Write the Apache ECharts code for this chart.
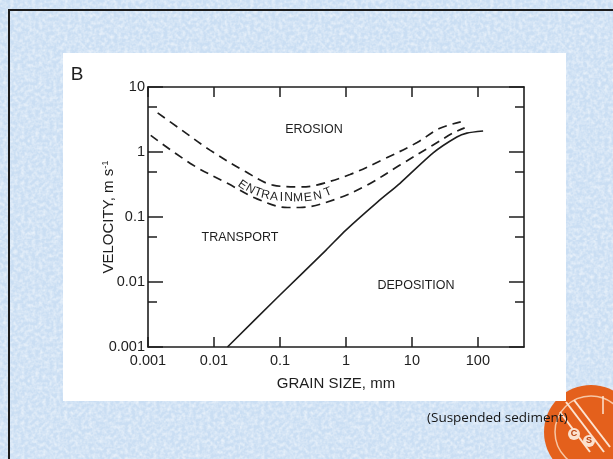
<!DOCTYPE html>
<html><head><meta charset="utf-8">
<script src="https://cdn.jsdelivr.net/npm/echarts@6/dist/echarts.min.js"></script>
<style>
html,body{margin:0;padding:0;}
body{background:#cadef3 url("data:image/svg+xml;utf8,<svg xmlns='http://www.w3.org/2000/svg' width='240' height='240'><filter id='n'><feTurbulence type='fractalNoise' baseFrequency='0.28' numOctaves='2' seed='4'/><feColorMatrix values='0 0 0 0 1  0 0 0 0 1  0 0 0 0 1  1.1 0 0 0 -0.38'/></filter><rect width='240' height='240' filter='url(%23n)'/></svg>");}
#c{width:613px;height:459px;}
</style>
</head><body><div id="c"></div>
<script>
// ---- data ----
const xTickValues = [0.001, 0.01, 0.1, 1, 10, 100];
const yTickValues = [0.001, 0.01, 0.1, 1, 10];
const yMinorValues = [0.005, 0.05, 0.5, 5];
// [grain size mm, velocity m/s]
const erosionCurve = [[0.0014,4.0],[0.003,2.3],[0.0087,1.07],[0.03,0.5],[0.078,0.31],[0.2,0.29],[0.36,0.31],[1.15,0.45],[3.6,0.76],[12,1.4],[26,2.3],[55,2.9]];
const entrainmentCurve = [[0.0011,1.8],[0.0048,0.63],[0.016,0.33],[0.045,0.19],[0.13,0.14],[0.2,0.14],[0.72,0.19],[2.1,0.31],[6.6,0.63],[21,1.28],[42,1.96],[63,2.35]];
const depositionCurve = [[0.016,0.001],[0.1,0.0063],[0.5,0.031],[1,0.063],[3,0.17],[6.6,0.33],[21,0.97],[48,1.7],[68,1.95],[120,2.1]];
const entrainmentLetters = ['E','N','T','R','A','I','N','M','E','N','T'];

const FONT = '"Liberation Sans", Arial, Helvetica, sans-serif';
const INK = '#1e1e1e';
const chart = echarts.init(document.getElementById('c'));

const lineStyleAxis = {color: INK, width: 1.6};
function xAxisDef(pos, labels) {
  return {
    type: 'log', position: pos, min: 0.001, max: 500, logBase: 10,
    axisLine: {show: true, onZero: false, lineStyle: lineStyleAxis},
    axisTick: {show: true, inside: true, length: 10, customValues: xTickValues, lineStyle: {color: INK, width: 1.5}},
    axisLabel: labels ? {show: true, customValues: xTickValues, formatter: v => String(v), color: INK, fontSize: 14.5, fontFamily: FONT, margin: 6} : {show: false},
    splitLine: {show: false}, minorTick: {show: false},
    name: labels ? 'GRAIN SIZE, mm' : '', nameLocation: 'middle', nameGap: 29, nameMoveOverlap: false,
    nameTextStyle: {color: INK, fontSize: 15, fontFamily: FONT}
  };
}
function yAxisDef(pos, values, len, line, labels) {
  return {
    type: 'log', position: pos, offset: 0, min: 0.001, max: 10, logBase: 10,
    axisLine: {show: line, onZero: false, lineStyle: lineStyleAxis},
    axisTick: {show: true, inside: true, length: len, customValues: values, lineStyle: {color: INK, width: 1.5}},
    axisLabel: labels ? {show: true, customValues: yTickValues, formatter: v => String(v), color: INK, fontSize: 14.5, fontFamily: FONT, margin: 3} : {show: false},
    splitLine: {show: false}, minorTick: {show: false},
    name: labels ? 'VELOCITY, m s{sup|-1}' : '', nameLocation: 'middle', nameGap: 30, nameRotate: 90, nameMoveOverlap: false,
    nameTextStyle: {color: INK, fontSize: 15, fontFamily: FONT,
      rich: {sup: {fontSize: 9.5, fontFamily: FONT, color: INK, verticalAlign: 'top', lineHeight: 18, padding: [0,0,7,0]}}}
  };
}

const letterPos = [[242.5,185,35],[250.5,189,30],[258,192.5,20],[265.5,195,12],[274,196.7,5],[281.5,197.5,0],[288.5,198,0],[298,198,-3],[308,197.5,-6],[317.5,196,-11],[328,192,-22]];

const graphics = [
  // logo (behind panel)
  {type:'circle', z:-30, shape:{cx:591, cy:432, r:47}, style:{fill:'#e4601c'}},
  {type:'circle', z:-29, shape:{cx:591, cy:432, r:36}, style:{fill:'none', stroke:'#f6c7a6', lineWidth:1.5}},
  {type:'line', z:-29, shape:{x1:566, y1:402, x2:604, y2:452}, style:{stroke:'#fde3d0', lineWidth:2}},
  {type:'line', z:-29, shape:{x1:574, y1:400, x2:610, y2:447}, style:{stroke:'#fde3d0', lineWidth:2}},
  {type:'line', z:-29, shape:{x1:560, y1:412, x2:590, y2:452}, style:{stroke:'#fde3d0', lineWidth:2}},
  {type:'line', z:-29, shape:{x1:603, y1:396, x2:603, y2:414}, style:{stroke:'#fde3d0', lineWidth:1.5}},
  {type:'circle', z:-28, shape:{cx:574, cy:434, r:6}, style:{fill:'#fbe1cf'}},
  {type:'circle', z:-28, shape:{cx:589, cy:441, r:6}, style:{fill:'#fbe1cf'}},
  {type:'text', z:-27, x:574, y:434, style:{text:'C', font:'bold 9px '+FONT, fill:'#b9420f', align:'center', verticalAlign:'middle'}},
  {type:'text', z:-27, x:589, y:441, style:{text:'S', font:'bold 9px '+FONT, fill:'#b9420f', align:'center', verticalAlign:'middle'}},
  // white panel
  {type:'rect', z:-20, shape:{x:63, y:53, width:503, height:348}, style:{fill:'#ffffff'}},
  // slide border
  {type:'rect', z:-10, shape:{x:8, y:9, width:605, height:2}, style:{fill:'#1b1b1b'}},
  {type:'rect', z:-10, shape:{x:8, y:9, width:2, height:450}, style:{fill:'#1b1b1b'}},
  // texts
  {type:'text', z:10, x:77, y:75, style:{text:'B', font:'19px '+FONT, fill:INK, align:'center', verticalAlign:'middle'}},
  {type:'text', z:10, x:314, y:130, style:{text:'EROSION', font:'12.5px '+FONT, fill:INK, align:'center', verticalAlign:'middle'}},
  {type:'text', z:10, x:240, y:238, style:{text:'TRANSPORT', font:'12.5px '+FONT, fill:INK, align:'center', verticalAlign:'middle'}},
  {type:'text', z:10, x:416, y:286, style:{text:'DEPOSITION', font:'12.5px '+FONT, fill:INK, align:'center', verticalAlign:'middle'}},
  {type:'text', z:10, x:427, y:418, style:{text:'(Suspended sediment)', font:'13.5px "Open Sans", '+FONT, fill:'#151515', align:'left', verticalAlign:'middle'}}
];
entrainmentLetters.forEach((ch, i) => {
  const p = letterPos[i];
  graphics.push({type:'text', z:10, x:p[0], y:p[1], rotation: -p[2]*Math.PI/180,
    style:{text:ch, font:'12px '+FONT, fill:INK, align:'center', verticalAlign:'middle'}});
});

const dashed = {color: INK, width: 1.7, type: [9, 6]};
chart.setOption({
  animation: false,
  backgroundColor: 'transparent',
  grid: {left: 148, right: 89, top: 87, bottom: 112, containLabel: false, outerBoundsMode: 'none'},
  xAxis: [xAxisDef('bottom', true), xAxisDef('top', false)],
  yAxis: [
    yAxisDef('left', yTickValues, 15, true, true),
    yAxisDef('left', yMinorValues, 9, false, false),
    yAxisDef('right', yTickValues, 15, true, false),
    yAxisDef('right', yMinorValues, 9, false, false)
  ],
  series: [
    {type:'line', name:'erosion', data: erosionCurve, xAxisIndex:0, yAxisIndex:0, showSymbol:false, smooth:0.35, lineStyle: dashed},
    {type:'line', name:'entrainment', data: entrainmentCurve, xAxisIndex:0, yAxisIndex:0, showSymbol:false, smooth:0.35, lineStyle: dashed},
    {type:'line', name:'deposition', data: depositionCurve, xAxisIndex:0, yAxisIndex:0, showSymbol:false, smooth:0.25, lineStyle: {color: INK, width: 1.6}}
  ],
  graphic: graphics
});
</script>
</body></html>
